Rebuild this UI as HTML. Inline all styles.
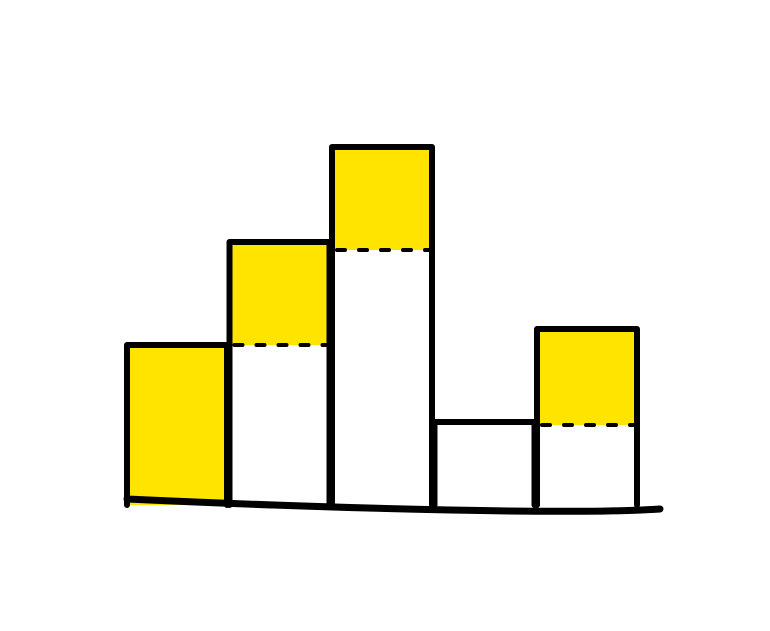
<!DOCTYPE html>
<html><head><meta charset="utf-8"><style>
html,body{margin:0;padding:0;background:#fff;width:770px;height:631px;overflow:hidden}
</style></head><body>
<svg id="chart" width="770" height="631" xmlns="http://www.w3.org/2000/svg"></svg>
<script>
const categories = ["A","B","C","D","E"];
const baseValues = [0, 160, 255, 0, 80];
const topValues = [160, 263, 358, 83, 176];
const filled = [true, true, true, false, true];

const svg = document.getElementById('chart');
const NS = 'http://www.w3.org/2000/svg';
const x0 = 127, step = 102.5, bw = 100;
function xScale(i){ return x0 + i*step; }
function yScale(v){ return 505 - v; }
function el(tag, attrs){ const e=document.createElementNS(NS,tag); for(const k in attrs) e.setAttribute(k,attrs[k]); svg.appendChild(e); return e; }

categories.forEach((c,i)=>{
  const x=xScale(i), yt=yScale(topValues[i]), yb=yScale(baseValues[i]);
  if(filled[i]){
    const r=el('rect',{x:x,y:yt,width:bw,height:yb-yt,fill:'#ffe400'});
    
    
    if(baseValues[i]>0){
      const d=el('line',{x1:x+5,y1:yb,x2:x+bw-3,y2:yb,stroke:'#000','stroke-width':4,'stroke-dasharray':'8 14','stroke-linecap':'round'});
      
      
    }
  }
  const p=el('path',{d:`M${x} ${yScale(0)} L${x} ${yt} L${x+bw} ${yt} L${x+bw} ${yScale(0)}`,fill:'none',stroke:'#000','stroke-width':6,'stroke-linecap':'round','stroke-linejoin':'round'});
  
  
});
const ax=el('path',{d:`M127 499 Q300 507 450 510 T660 509`,fill:'none',stroke:'#000','stroke-width':7,'stroke-linecap':'round'});


</script>
</body></html>
